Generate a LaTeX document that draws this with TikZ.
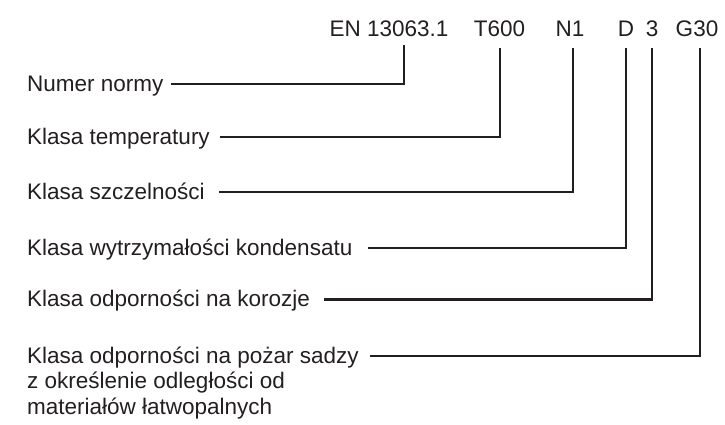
\documentclass[tikz,border=0pt]{standalone}
\usepackage{fontspec}
\setmainfont{Liberation Sans}
\definecolor{txtgray}{HTML}{231F20}

\begin{document}
\begin{tikzpicture}[x=1pt,y=-1pt,
	every node/.style={font=\fontsize{22.5}{25.5}\selectfont,text=txtgray},
	kod/.style={anchor=base,inner sep=0pt},
	klasa/.style={anchor=base west,inner sep=0pt,align=left},
	lead/.style={line width=2.9pt,draw=txtgray}]
	\useasboundingbox (0,0) rectangle (725,424);

	% oznaczenie
	\node[kod] (en) at (389,36) {EN 13063.1};
	\node[kod] (t)  at (499.5,36) {T600};
	\node[kod] (n)  at (570,36) {N1};
	\node[kod] (d)  at (626,36) {D};
	\node[kod] (k)  at (652,36) {3};
	\node[kod] (g)  at (697,36) {G30};

	% opisy (base = ostatni wiersz)
	\node[klasa] (numer)  at (27,91)  {Numer normy};
	\node[klasa] (temp)   at (27,144) {Klasa temperatury};
	\node[klasa] (szczel) at (27,199) {Klasa szczelności};
	\node[klasa] (kond)   at (27,255) {Klasa wytrzymałości kondensatu};
	\node[klasa] (koroz)  at (27,306.5) {Klasa odporności na korozje};
	\node[klasa] (sadza)  at (27,414) {Klasa odporności na pożar sadzy\\
		z określenie odległości od\\materiałów łatwopalnych};

	\foreach \a/\b/\gap/\up/\dx/\dy in {numer/en/7/7/15/-9,temp/t/10/7/0.5/-12,
		szczel/n/14/7/3/-12,kond/d/15/7/0/-12,koroz/k/14/7/0/-12,sadza/g/11/58/3/-12}
		\draw[lead] ([xshift=\gap pt,yshift=\up pt]\a.base east)
			-| ([xshift=\dx pt,yshift=\dy pt]\b.south);
\end{tikzpicture}
\end{document}
